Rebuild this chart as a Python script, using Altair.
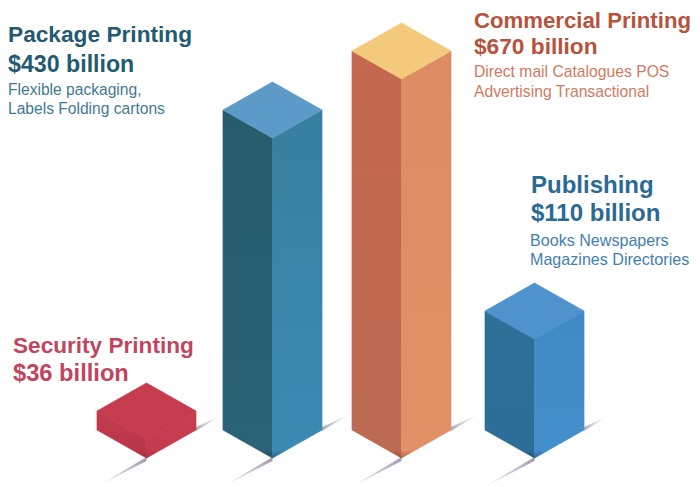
import altair as alt
import pandas as pd

# Values and what is drawn for them (image pixels)
categories = ["Security Printing", "Package Printing", "Commercial Printing", "Publishing"]
billions = [36, 430, 670, 110]
drawn_height = [19, 320, 379, 119]
bar_center = [146.5, 272.5, 401.5, 534.5]
lower_shadow_end = [97, 222, 350, 483]
upper_shadow_end = [220, 350, 478, 606]

top_color = ["#c73b4f", "#5c9bc8", "#f3c97c", "#4e93cc"]
left_color = [("#c23a4d", "#bb364b", "#a02a3f"), ("#275c6d", "#2a6277", "#1f4e63"),
              ("#c4684f", "#bc6a52", "#a04f3c"), ("#2f7099", "#2c6e98", "#1f5578")]
right_color = [("#c93e51", "#c43a4e", "#a82f43"), ("#377f9f", "#3c8ab3", "#2a6787"),
               ("#dd8b62", "#e29066", "#b56a48"), ("#408ac4", "#438fcb", "#2b6b9c")]

title_lines = [f"{c}" for c in categories]
amount_lines = [f"${v} billion" for v in billions]
detail_1 = ["", "Flexible packaging,", "Direct mail Catalogues POS", "Books Newspapers"]
detail_2 = ["", "Labels Folding cartons", "Advertising Transactional", "Magazines Directories"]
title_color = ["#c2455f", "#235a72", "#b5533c", "#2a6a94"]
detail_color = ["#c2455f", "#3f7a94", "#d07a62", "#437fae"]

# layout
title_x = [13, 8, 474, 531]
title_y = [353, 42, 28, 193]
amount_y = [381, 72, 54, 221]
detail_x = [0, 8, 474, 530]
detail_y1 = [0, 95, 77, 246]
detail_y2 = [0, 114, 97, 265]
title_size = [22.6, 22.7, 22.2, 24]
amount_size = [23.7, 23.2, 22.7, 24]
detail_size = [15, 15.6, 15.7, 16.1]
HW, HD, BASE = 49.5, 28, 458
W, H = 684, 479

sx = alt.Scale(domain=[8, 8 + W], range=[0, W])
sy = alt.Scale(domain=[8 + H, 8], range=[H, 0])


def area(xs, tops, bots, fill, seam=True):
    d = pd.DataFrame({"px": xs, "top": tops, "bot": bots})
    props = dict(fill=fill, opacity=1, orient="vertical")
    if seam:
        props.update(stroke=fill, strokeWidth=0.7)
    return alt.Chart(d).mark_area(**props).encode(
        x=alt.X("px:Q", scale=sx, axis=None),
        y=alt.Y("top:Q", scale=sy, axis=None),
        y2=alt.Y2("bot:Q"),
    )


def fade(c0, c1):
    return alt.LinearGradient(
        gradient="linear", x1=0, y1=0, x2=1, y2=0,
        stops=[alt.GradientStop(color=c0, offset=0), alt.GradientStop(color=c1, offset=1)],
    )


def face(colors, cut):
    return alt.LinearGradient(
        gradient="linear", x1=0, y1=0, x2=0, y2=1,
        stops=[alt.GradientStop(color=colors[0], offset=0),
               alt.GradientStop(color=colors[1], offset=cut),
               alt.GradientStop(color=colors[2], offset=1)],
    )


layers = []
for i in range(4):
    c = bar_center[i]
    # ground shadows
    xl = lower_shadow_end[i]
    layers.append(area([xl, c], [BASE + (c - xl) * 0.575, BASE - 1],
                       [BASE + (c - xl) * 0.575, BASE + 3], fade("#ffffff", "#a09cb2"), seam=False))
    xr = upper_shadow_end[i]
    layers.append(area([c + HW, xr], [BASE - HD - 3, BASE - HD - (xr - c - HW) * 0.575],
                       [BASE - HD + 1, BASE - HD - (xr - c - HW) * 0.575], fade("#b0adbf", "#ffffff"), seam=False))

for i in range(4):
    c, h = bar_center[i], drawn_height[i]
    front = BASE - h
    side = front - HD
    apex = side - HD
    cut = 1 - 8 / (h + HD)
    layers.append(area([c - HW, c], [side, front], [BASE - HD, BASE], face(left_color[i], cut)))
    layers.append(area([c, c + HW], [front, side], [BASE, BASE - HD], face(right_color[i], cut)))
    layers.append(area([c - HW, c, c + HW], [side, apex, side], [side, front, side], top_color[i]))

rows = []
for i in range(4):
    rows.append(dict(t=title_lines[i], x=title_x[i], y=title_y[i], c=title_color[i], s=title_size[i], w="bold"))
    rows.append(dict(t=amount_lines[i], x=title_x[i], y=amount_y[i], c=title_color[i], s=amount_size[i], w="bold"))
    if detail_1[i]:
        rows.append(dict(t=detail_1[i], x=detail_x[i], y=detail_y1[i], c=detail_color[i], s=detail_size[i], w="normal"))
        rows.append(dict(t=detail_2[i], x=detail_x[i], y=detail_y2[i], c=detail_color[i], s=detail_size[i], w="normal"))
text = pd.DataFrame(rows)

for weight in ["bold", "normal"]:
    layers.append(
        alt.Chart(text[text.w == weight]).mark_text(
            align="left", baseline="alphabetic", font="Liberation Sans", fontWeight=weight
        ).encode(
            x=alt.X("x:Q", scale=sx, axis=None),
            y=alt.Y("y:Q", scale=sy, axis=None),
            text="t:N",
            color=alt.Color("c:N", scale=None),
            size=alt.Size("s:Q", scale=None),
        )
    )

chart = alt.layer(*layers).properties(
    width=W, height=H, padding=0, background="#ffffff",
    autosize=alt.AutoSizeParams(type="none"),
).configure_view(stroke=None)

chart.save("out.html", embed_options={"renderer": "svg", "actions": False})
